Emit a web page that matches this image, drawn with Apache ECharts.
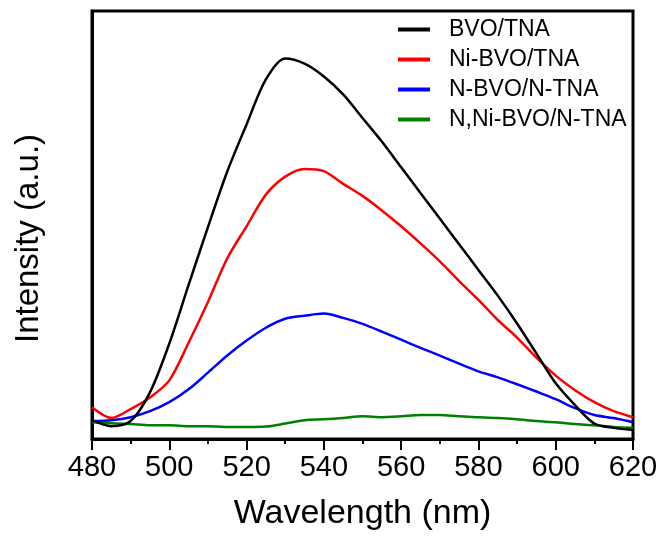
<!DOCTYPE html>
<html>
<head>
	<meta charset="utf-8">
	<script type="text/javascript" src="https://cdn.jsdelivr.net/npm/echarts@6/dist/echarts.min.js"></script>
	<style>
		html, body { margin: 0; padding: 0; background: #fff; }
	</style>
</head>
<body>
	<div id="main" style="width: 662px; height: 536px;"></div>

	<script type="text/javascript">
		// wavelength (nm), 5 nm steps
		var wavelength = [480,485,490,495,500,505,510,515,520,525,530,535,540,545,550,555,560,565,570,575,580,585,590,595,600,605,610,615,620];

		var names = ['BVO/TNA', 'Ni-BVO/TNA', 'N-BVO/N-TNA', 'N,Ni-BVO/N-TNA'];
		var colors = ['#000000', '#ff0000', '#0000ff', '#008000'];

		// intensity, arbitrary units
		var bvo = [4.4,3.0,4.2,10.9,22.3,36.0,49.5,62.5,73.5,84.0,88.9,87.7,84.7,80.5,75.0,69.5,63.5,57.5,51.5,45.5,39.5,33.5,27.0,20.0,13.0,7.9,3.6,2.6,2.1];
		var niBvo = [7.4,4.9,7.0,9.7,13.7,22.5,32.0,42.2,49.7,57.1,61.3,63.1,62.6,59.6,56.8,53.4,49.7,45.7,41.5,36.9,32.5,27.8,23.7,19.0,14.8,11.4,8.6,6.5,5.1];
		var nBvo = [4.2,4.4,5.1,6.5,8.6,11.6,15.5,19.5,23.0,26.0,28.1,28.8,29.3,28.3,26.9,25.1,23.2,21.3,19.5,17.6,15.8,14.4,12.8,11.1,9.3,7.2,5.6,4.9,3.9];
		var nNiBvo = [3.9,3.7,3.5,3.2,3.2,3.0,3.0,2.8,2.8,2.9,3.6,4.4,4.6,4.9,5.3,5.1,5.3,5.6,5.6,5.3,5.1,4.9,4.6,4.2,3.9,3.5,3.2,2.8,2.6];

		var xTicks = [480, 620, 20];

		var allSeries = [bvo, niBvo, nBvo, nNiBvo];
		var font = "'Liberation Sans', Arial, sans-serif";

		var chart = echarts.init(document.getElementById("main"));

		var series = [];
		for (var i = 0; i < allSeries.length; i++) {
			var pts = [];
			for (var j = 0; j < wavelength.length; j++) {
				pts.push([wavelength[j], allSeries[i][j]]);
			}
			series.push({
				name: names[i],
				type: 'line',
				data: pts,
				showSymbol: false,
				symbol: 'none',
				smooth: 0.3,
				lineStyle: { color: colors[i], width: 2.5 },
				itemStyle: { color: colors[i] },
				z: 10 - i
			});
		}

		chart.setOption({
			animation: false,
			grid: {
				left: 92, right: 29, top: 11, bottom: 94,
				show: true, borderColor: '#000', borderWidth: 3
			},
			legend: {
				orient: 'vertical',
				left: 398,
				top: 18,
				padding: 0,
				icon: 'rect',
				itemWidth: 32,
				itemHeight: 4,
				itemGap: 7,
				data: names,
				textStyle: { fontFamily: font, fontSize: 23, lineHeight: 23, color: '#000', padding: [0, 0, 0, 14] }
			},
			xAxis: {
				type: 'value',
				min: xTicks[0],
				max: xTicks[1],
				interval: xTicks[2],
				name: 'Wavelength (nm)',
				nameLocation: 'middle',
				nameGap: 58,
				nameTextStyle: { fontFamily: font, fontSize: 34, color: '#000' },
				axisLine: { lineStyle: { color: '#000', width: 3 } },
				axisTick: { show: true, inside: false, length: 11, lineStyle: { color: '#000', width: 2 } },
				minorTick: { show: true, splitNumber: 2, length: 5, lineStyle: { color: '#000', width: 2 } },
				axisLabel: { fontFamily: font, fontSize: 29, color: '#000', margin: 14 },
				splitLine: { show: false }
			},
			yAxis: {
				type: 'value',
				min: 0,
				max: 100,
				name: 'Intensity (a.u.)',
				nameLocation: 'middle',
				nameGap: 47,
				nameTextStyle: { fontFamily: font, fontSize: 33, color: '#000', padding: [0, 27, 0, 0] },
				axisLine: { show: true, lineStyle: { color: '#000', width: 3 } },
				axisTick: { show: false },
				axisLabel: { show: false },
				splitLine: { show: false }
			},
			series: series
		});
	</script>
</body>
</html>
